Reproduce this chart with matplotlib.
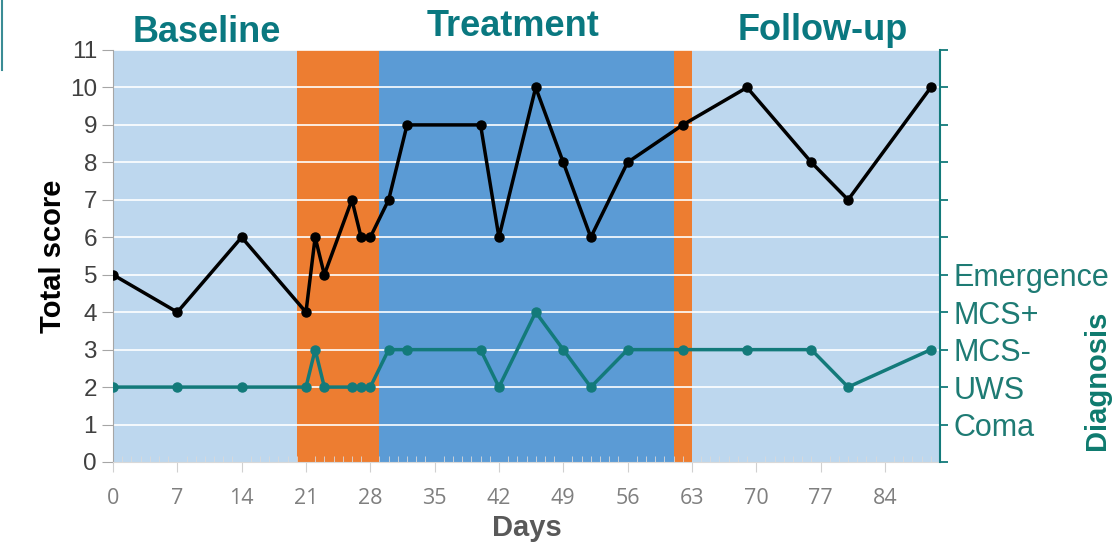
import matplotlib
matplotlib.use("Agg")
import matplotlib.pyplot as plt
from matplotlib.lines import Line2D

plt.rcParams['font.family'] = ['Liberation Sans', 'DejaVu Sans']

days = [0, 7, 14, 21, 22, 23, 26, 27, 28, 30, 32, 40, 42, 46, 49, 52, 56, 62, 69, 76, 80, 89]
total_score = [5, 4, 6, 4, 6, 5, 7, 6, 6, 7, 9, 9, 6, 10, 8, 6, 8, 9, 10, 8, 7, 10]
diagnosis = [2, 2, 2, 2, 3, 2, 2, 2, 2, 3, 3, 3, 2, 4, 3, 2, 3, 3, 3, 3, 2, 3]

phase_starts = [0, 20, 29, 61, 63]
phase_ends = [20, 29, 61, 63, 90]
phase_colors = ['#BDD7EE', '#ED7D31', '#5B9BD5', '#ED7D31', '#BDD7EE']

phase_titles = ['Baseline', 'Treatment', 'Follow-up']
phase_title_x = [207, 513, 823]
phase_title_y = [32, 27, 30]

diag_labels = ['Coma', 'UWS', 'MCS-', 'MCS+', 'Emergence']
diag_levels = [1, 2, 3, 4, 5]

xticks = list(range(0, 85, 7))
yticks = list(range(0, 12))

teal = '#137A7A'
title_teal = '#0A7880'

W, H = 1120, 548
fig = plt.figure(figsize=(W / 100, H / 100), dpi=100)
ax = fig.add_axes([113 / W, 1 - 462 / H, (940 - 113) / W, (462 - 50) / H])

for s, e, c in zip(phase_starts, phase_ends, phase_colors):
    ax.axvspan(s, e, color=c, lw=0, zorder=0)

ax.set_xlim(0, 90)
ax.set_ylim(0, 11)
ax.set_yticks(yticks)
ax.set_xticks(xticks)
ax.set_xticks(range(0, 90), minor=True)
for y in yticks[1:]:
    ax.axhline(y, color='white', lw=1.4, alpha=0.85, zorder=1)

ax.plot(days, diagnosis, color=teal, lw=2.5, marker='o', ms=6.5, zorder=3)
ax.plot(days, total_score, color='black', lw=2.5, marker='o', ms=6.5, zorder=4)

ax.spines['top'].set_visible(False)
ax.spines['right'].set_visible(False)
ax.spines['left'].set_color('#A6A6A6')
ax.spines['bottom'].set_color('#D9D9D9')
ax.tick_params(axis='y', labelsize=17.5, colors='#404040', length=8, color='#A6A6A6', direction='out')
ax.tick_params(axis='x', which='major', labelsize=15.5, labelcolor='#7F7F7F', length=7,
               color='#D0D0D0', direction='out', pad=12)
ax.tick_params(axis='x', which='minor', length=4, color='#D9D9D9', direction='in')
for lab in ax.get_xticklabels():
    lab.set_family(['Open Sans', 'DejaVu Sans'])

ax.set_xlabel('Days', fontsize=21, fontweight='bold', color='#595959', labelpad=3)
ax.set_ylabel('Total score', fontsize=21, fontweight='bold', color='black', labelpad=2)

ax2 = ax.twinx()
ax2.set_ylim(0, 11)
ax2.set_yticks(yticks)
ax2.set_yticklabels([diag_labels[diag_levels.index(y)] if y in diag_levels else '' for y in yticks])
for sp in ['top', 'left', 'bottom']:
    ax2.spines[sp].set_visible(False)
ax2.spines['right'].set_color(teal)
ax2.spines['right'].set_linewidth(1.5)
ax2.tick_params(axis='y', labelsize=22, labelcolor='#1E7B74', color=teal, length=6, width=1.3, pad=4)

fig.text(1097 / W, 1 - 380 / H, 'Diagnosis', rotation=90, ha='center', va='center',
         fontsize=21, fontweight='bold', color='#0E7A6E')

for t, x, y in zip(phase_titles, phase_title_x, phase_title_y):
    fig.text(x / W, 1 - y / H, t, ha='center', va='center', fontsize=26,
             fontweight='bold', color=title_teal)

fig.add_artist(Line2D([2 / W, 2 / W], [1 - 0 / H, 1 - 70 / H], color='#3A8C95', lw=1.5))

fig.savefig('out.png', dpi=100)
